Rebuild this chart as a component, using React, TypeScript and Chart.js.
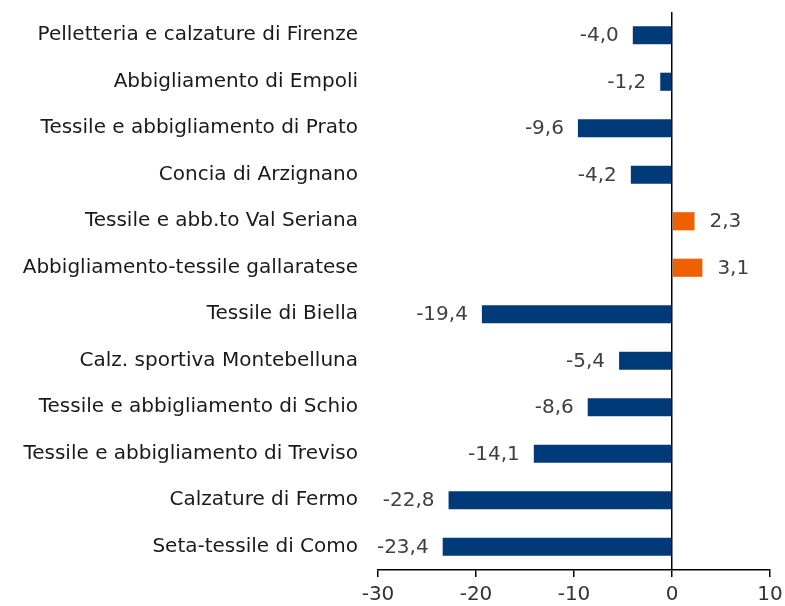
import React, { useEffect, useRef } from "react";
import { Chart, registerables } from "chart.js";

Chart.register(...registerables);

const categories: string[] = [
  "Pelletteria e calzature di Firenze",
  "Abbigliamento di Empoli",
  "Tessile e abbigliamento di Prato",
  "Concia di Arzignano",
  "Tessile e abb.to Val Seriana",
  "Abbigliamento-tessile gallaratese",
  "Tessile di Biella",
  "Calz. sportiva Montebelluna",
  "Tessile e abbigliamento di Schio",
  "Tessile e abbigliamento di Treviso",
  "Calzature di Fermo",
  "Seta-tessile di Como",
];

const values: number[] = [-4.0, -1.2, -9.6, -4.2, 2.3, 3.1, -19.4, -5.4, -8.6, -14.1, -22.8, -23.4];

const xMin = -30;
const xMax = 10;
const xStep = 10;

const BLUE = "#003A78";
const ORANGE = "#EE6100";
const FONT = "'DejaVu Sans', sans-serif";

const fmt = (v: number) => v.toFixed(1).replace(".", ",");

const labelPlugin = {
  id: "valueLabels",
  afterDatasetsDraw(chart: any) {
    const ctx = chart.ctx;
    const meta = chart.getDatasetMeta(0);
    ctx.save();
    ctx.font = `20px ${FONT}`;
    ctx.fillStyle = "#404040";
    ctx.textBaseline = "middle";
    meta.data.forEach((bar: any, i: number) => {
      const v = values[i];
      const p = bar.getProps(["x", "y", "base"], true);
      if (v < 0) {
        ctx.textAlign = "right";
        ctx.fillText(fmt(v), p.x - 14, p.y + 1);
      } else {
        ctx.textAlign = "left";
        ctx.fillText(fmt(v), p.x + 15, p.y + 1);
      }
    });
    ctx.restore();
  },
};

export default function App() {
  const ref = useRef<HTMLCanvasElement | null>(null);

  useEffect(() => {
    if (!ref.current) return;
    const chart = new Chart(ref.current, {
      type: "bar",
      data: {
        labels: categories,
        datasets: [
          {
            data: values,
            backgroundColor: values.map((v) => (v < 0 ? BLUE : ORANGE)),
            barPercentage: 0.39,
            categoryPercentage: 1,
          },
        ],
      },
      options: {
        indexAxis: "y",
        animation: false,
        responsive: false,
        maintainAspectRatio: false,
        layout: { padding: { top: 0, right: 15, bottom: 0, left: 0 } },
        plugins: {
          legend: { display: false },
          tooltip: { enabled: false },
        },
        scales: {
          x: {
            min: xMin,
            max: xMax,
            ticks: {
              stepSize: xStep,
              color: "#333",
              font: { family: FONT, size: 20 },
              padding: 6,
              callback: (v: any) => String(v),
            },
            grid: {
              color: (c: any) => (c.tick && c.tick.value === 0 ? "#000" : "rgba(0,0,0,0)"),
              lineWidth: 1.5,
              tickColor: "#000",
              tickLength: 7,
              drawTicks: true,
            },
            border: { display: true, color: "#000", width: 1.5 },
            afterFit: (s: any) => {
              s.height = 36;
              s.paddingRight = 15;
            },
          },
          y: {
            grid: {
              display: true,
              drawOnChartArea: false,
              drawTicks: true,
              tickLength: 20,
              tickColor: "rgba(0,0,0,0)",
              color: "rgba(0,0,0,0)",
            },
            border: { display: false },
            ticks: {
              color: "#1a1a1a",
              font: { family: FONT, size: 20 },
              padding: 0,
            },
            afterFit: (s: any) => {
              s.width = 378;
            },
          },
        },
      },
      plugins: [labelPlugin],
    });
    return () => chart.destroy();
  }, []);

  return (
    <div style={{ position: "fixed", left: 0, top: 0, width: 785, height: 606, background: "#fff" }}>
      <canvas ref={ref} width={785} height={606} style={{ width: 785, height: 606 }} />
    </div>
  );
}
